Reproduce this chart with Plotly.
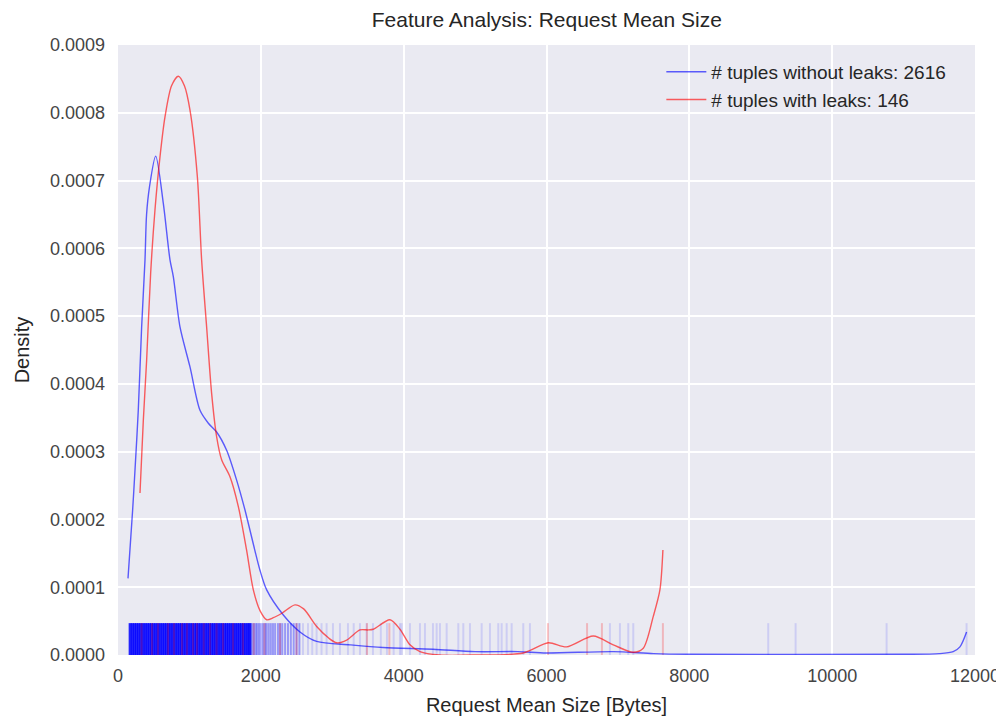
import plotly.graph_objects as go

# ---- data ----
blue_kde_x = [140, 205, 238, 284, 331, 378, 400, 440, 528, 635, 728, 775, 868, 1008, 1148, 1265,
              1381, 1521, 1661, 1778, 1988, 2082, 2315, 2548, 2782, 3248, 3710, 4410, 5000, 5600,
              6000, 6935, 7500, 8000, 11000, 11500, 11695, 11789, 11882]
blue_kde_y = [1.13, 2.14, 2.73, 3.61, 4.84, 5.83, 6.5, 6.9, 7.36, 6.66, 5.83, 5.58, 4.84, 4.25, 3.61, 3.42,
              3.29, 3.02, 2.58, 2.14, 1.25, 0.96, 0.59, 0.34, 0.20, 0.15, 0.11, 0.085, 0.05, 0.05,
              0.03, 0.05, 0.02, 0.01, 0.01, 0.02, 0.05, 0.12, 0.34]

red_kde_x = [308, 355, 401, 457, 518, 588, 658, 750, 845, 930, 1008, 1111, 1171, 1241, 1311, 1381,
             1451, 1568, 1685, 1800, 1895, 1990, 2082, 2175, 2300, 2478, 2600, 2782, 2950, 3062,
             3202, 3388, 3500, 3575, 3808, 3948, 4088, 4228, 4500, 5000, 5675, 6025, 6282, 6655,
             6935, 7215, 7355, 7495, 7588, 7630]
red_kde_y = [2.39, 3.47, 4.35, 5.63, 6.57, 7.35, 7.94, 8.4, 8.54, 8.4, 8.04, 7.06, 5.83, 4.84, 3.86, 3.22,
             2.88, 2.63, 2.19, 1.55, 0.96, 0.65, 0.52, 0.55, 0.62, 0.74, 0.68, 0.42, 0.25, 0.18,
             0.22, 0.37, 0.37, 0.38, 0.52, 0.38, 0.15, 0.05, 0.0, 0.0, 0.03, 0.18, 0.12, 0.28,
             0.15, 0.04, 0.10, 0.57, 0.96, 1.55]

blue_rug_dense = [170, 200, 230, 260, 290, 320, 350, 380, 410, 440, 470, 500, 530, 560, 590, 620,
                  650, 680, 710, 740, 770, 800, 830, 860, 890, 920, 950, 980, 1010, 1040, 1070,
                  1100, 1130, 1160, 1190, 1220, 1250, 1280, 1310, 1340, 1370, 1400, 1430, 1460,
                  1490, 1520, 1550, 1580, 1610, 1640, 1670, 1700, 1730, 1760, 1790, 1820, 1845]
blue_rug_mid = [1860, 1880, 1905, 1930, 1950, 1975, 2000, 2030, 2060, 2080, 2110, 2140, 2170,
                2200, 2240, 2270, 2300, 2340, 2380, 2420, 2460, 2500, 2540]
blue_rug_sparse = [2590, 2660, 2720, 2781, 2850, 2921, 3010, 3108, 3220, 3300, 3388, 3480, 3570,
                   3680, 3766, 3860, 3948, 3972, 4088, 4228, 4298, 4410, 4462, 4508, 4602, 4765,
                   4835, 4928, 5092, 5208, 5325, 5372, 5442, 5512, 5675, 5768, 6888, 7028, 7145,
                   7215, 9105, 9488, 10762, 11882]
red_rug = [330, 476, 560, 700, 784, 896, 966, 1050, 1106, 1200, 1288, 1380, 1470, 1610, 1750,
           1900, 2050, 2268, 2500, 3487, 3800, 6020, 6568, 6776, 7630]

rug_height = 0.47e-4
label_blue = "# tuples without leaks: 2616"
label_red = "# tuples with leaks: 146"
x_ticks = [0, 2000, 4000, 6000, 8000, 10000, 12000]
y_ticks = [i * 1e-4 for i in range(10)]


def rug_segments(vals):
    xs, ys = [], []
    for v in vals:
        xs += [v, v, None]
        ys += [0, rug_height, None]
    return xs, ys


fig = go.Figure()

for vals, col, w in [(blue_rug_dense, "rgba(0,0,255,0.85)", 3),
                     (blue_rug_mid, "rgba(0,0,255,0.35)", 2),
                     (blue_rug_sparse, "rgba(0,0,255,0.12)", 2),
                     (red_rug, "rgba(255,0,0,0.22)", 2)]:
    xs, ys = rug_segments(vals)
    fig.add_trace(go.Scatter(x=xs, y=ys, mode="lines", line=dict(color=col, width=w),
                             showlegend=False, hoverinfo="skip"))

fig.add_trace(go.Scatter(x=blue_kde_x, y=[v * 1e-4 for v in blue_kde_y], mode="lines",
                         line=dict(color="rgba(0,0,255,0.62)", width=1.4, shape="spline", smoothing=0.8),
                         name=label_blue))
fig.add_trace(go.Scatter(x=red_kde_x, y=[v * 1e-4 for v in red_kde_y], mode="lines",
                         line=dict(color="rgba(255,0,0,0.62)", width=1.4, shape="spline", smoothing=0.8),
                         name=label_red))

# page body has an 8px default margin, so the figure is sized/offset to compensate
fig.update_layout(
    width=996, height=711,
    margin=dict(l=110, r=29, t=37, b=64, autoexpand=False),
    paper_bgcolor="white", plot_bgcolor="#EAEAF2",
    font=dict(family="Liberation Sans, Arial, sans-serif", color="#262626"),
    title=dict(text="Feature Analysis: Request Mean Size", x=0.541, xanchor="center",
               y=0.983, yanchor="middle", font=dict(size=21, color="#262626")),
    legend=dict(x=0.634, y=0.987, xanchor="left", yanchor="top", bgcolor="rgba(0,0,0,0)",
                font=dict(size=19, color="#262626"), tracegroupgap=0, itemwidth=40),
    showlegend=True,
)
fig.update_xaxes(range=[0, 12000], tickvals=x_ticks, ticktext=[str(t) for t in x_ticks],
                 showgrid=True, gridcolor="white", gridwidth=1.5, zeroline=False,
                 showline=False, ticks="", ticklabelstandoff=8, automargin=False,
                 tickfont=dict(size=18, color="#444444"),
                 title=dict(text="Request Mean Size [Bytes]", font=dict(size=20, color="#262626"),
                            standoff=12))
fig.update_yaxes(range=[0, 0.0009], tickvals=y_ticks, ticktext=[f"{t:.4f}" for t in y_ticks],
                 showgrid=True, gridcolor="white", gridwidth=1.5, zeroline=False,
                 showline=False, ticks="", ticklabelstandoff=12, automargin=False,
                 tickfont=dict(size=18, color="#444444"),
                 title=dict(text="Density", font=dict(size=20, color="#262626"), standoff=14))

fig.write_html("out.html")
